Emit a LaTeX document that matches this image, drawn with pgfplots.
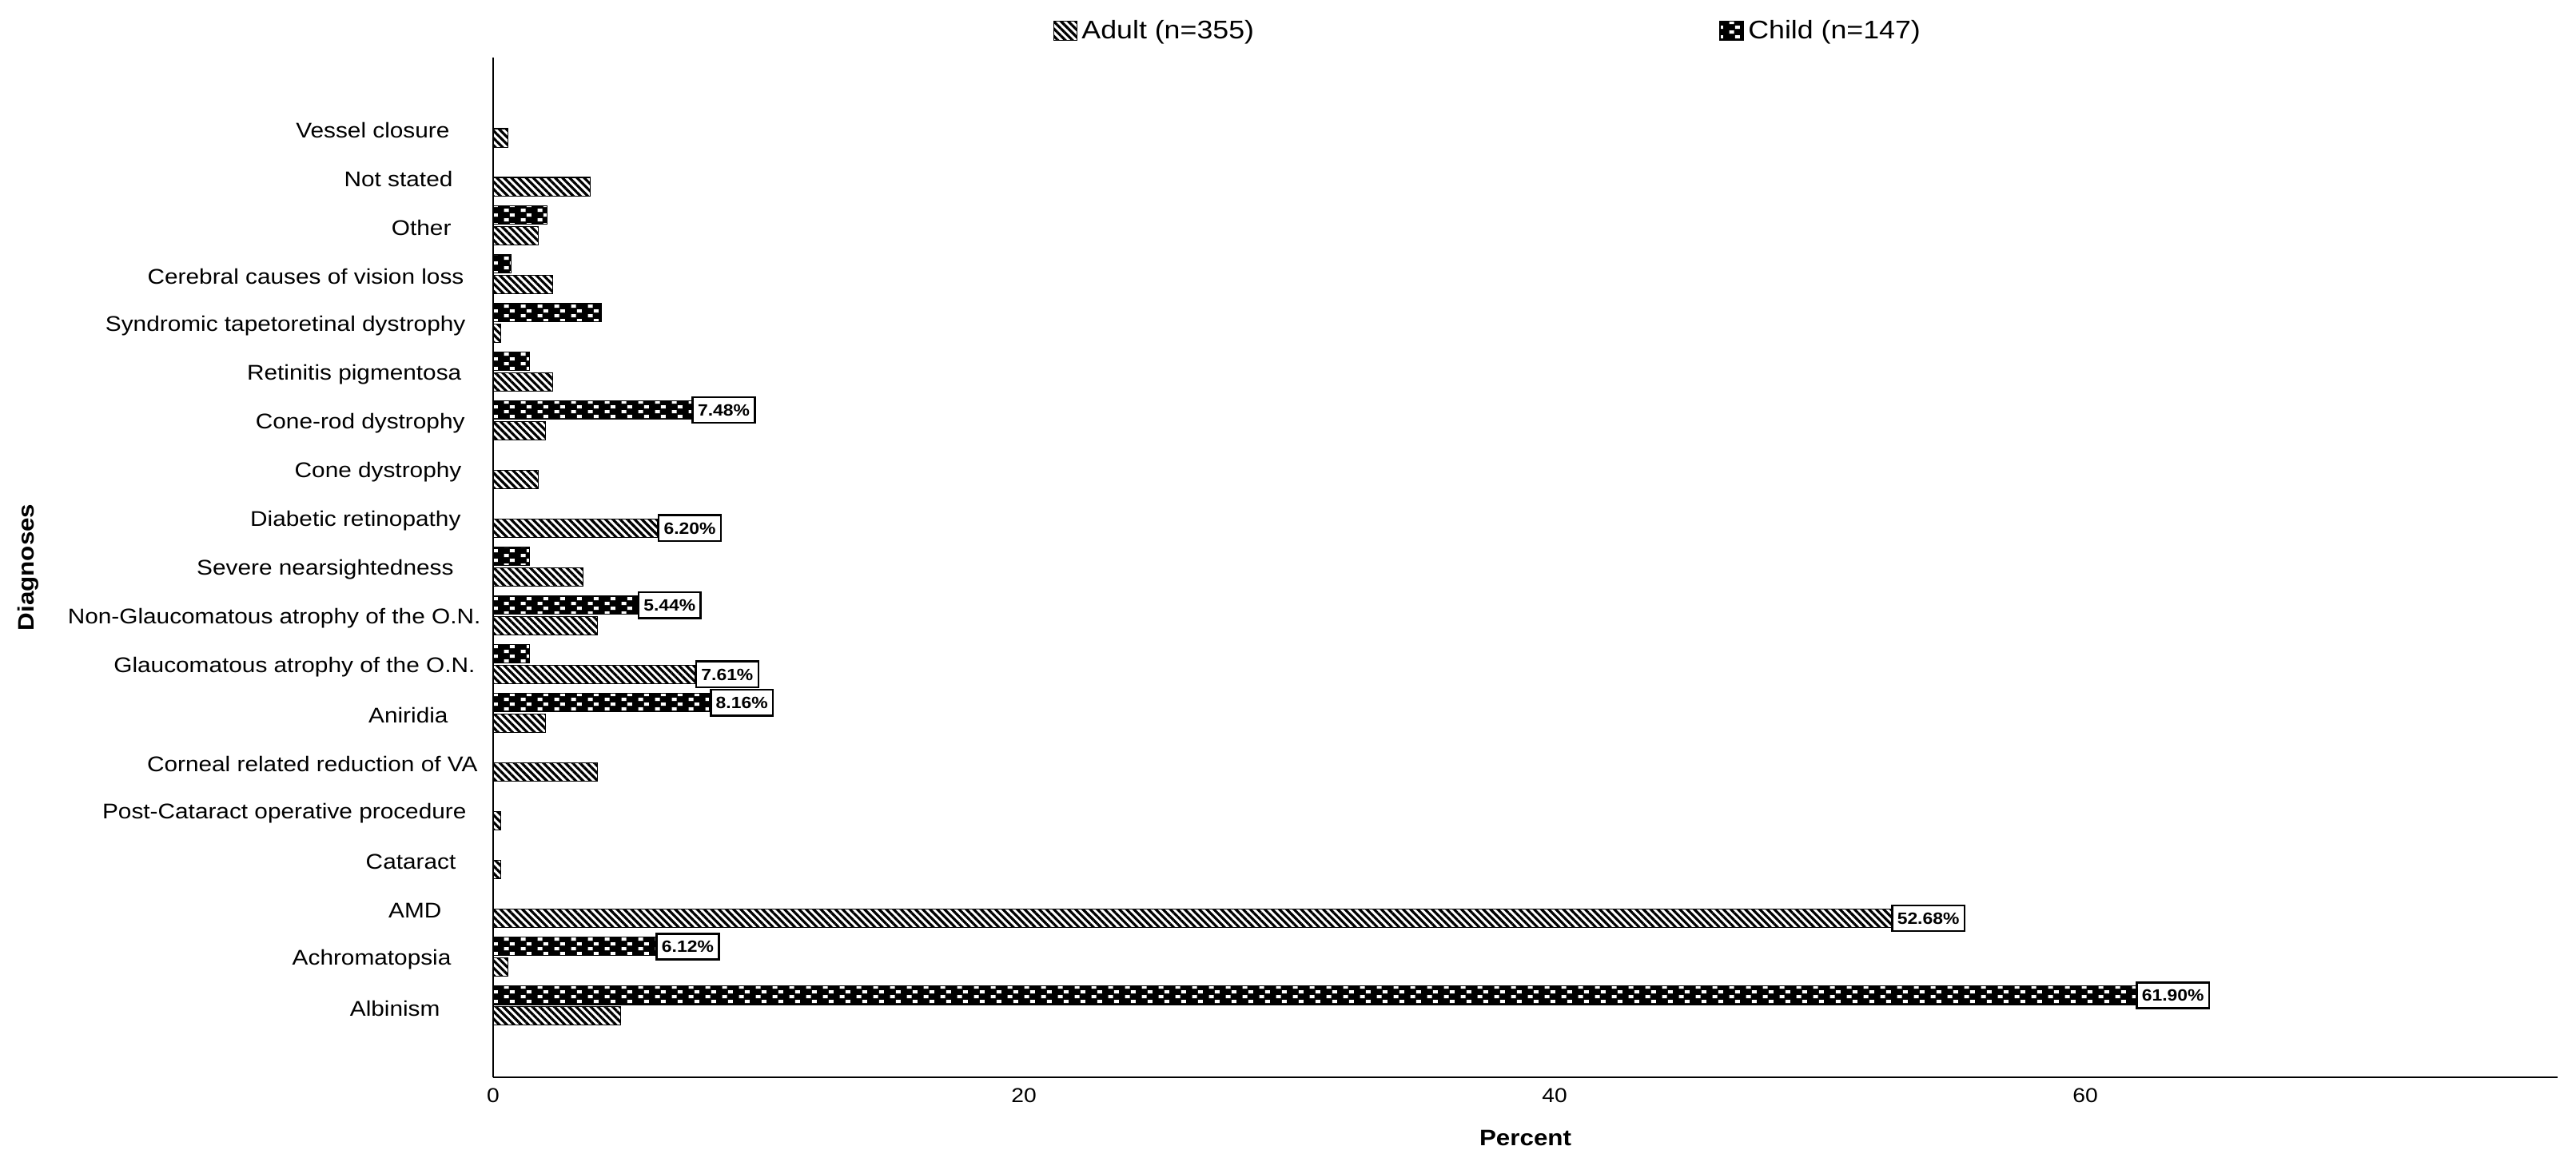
\documentclass[border=0pt]{standalone}
\usepackage{pgfplots}
\pgfplotsset{compat=1.18}
\usepackage{fontspec}
\setmainfont{Liberation Sans}[FakeStretch=1.12]
\usetikzlibrary{patterns,patterns.meta}

\tikzdeclarepattern{
  name=WhiteSquares,
  type=uncolored,
  bottom left={(0pt,0pt)},
  top right={(7.5pt,4.4pt)},
  tile size={(7.5pt,4.4pt)},
  code={
    \fill (0.6pt,0.35pt) rectangle (2.75pt,1.85pt);
    \fill (3.2pt,2.55pt) rectangle (5.35pt,4.05pt);
  }
}

\pgfplotsset{
  adultstyle/.style={draw=black, line width=0.4pt, pattern={Lines[angle=-45,distance=2.3pt,line width=1.15pt]}, pattern color=black},
  childstyle/.style={draw=black, line width=0.4pt, fill=black, postaction={pattern=WhiteSquares, pattern color=white}},
  lbl/.style={point meta=x, nodes near coords={\pgfmathprintnumber[fixed,zerofill,precision=2]{\pgfplotspointmeta}\%},
    every node near coord/.append style={anchor=west, draw=black, line width=0.9pt, fill=white, text=black,
      inner xsep=2.3pt, inner ysep=3.1pt, text height=5.3pt, text depth=0pt,
      font=\bfseries\fontsize{7.3}{8}\selectfont}}
}

\begin{document}
\begin{tikzpicture}
\useasboundingbox (-220.4pt,-39.6pt) rectangle (930.7pt,481.4pt);
\begin{axis}[
  at={(0pt,0pt)}, anchor=south west,
  scale only axis, width=922.5pt, height=455.7pt,
  xbar, bar width=0.38,
  xmin=0, xmax=77.8, ymin=-1.47, ymax=19.44,
  axis x line*=bottom, axis y line*=left,
  axis line style={line width=0.5pt, -},
  xtick={0,20,40,60}, ytick={0,1,...,18},
  yticklabels={
    {Albinism\hspace*{18.2pt}},
    {Achromatopsia\hspace*{13.2pt}},
    {AMD\hspace*{17.5pt}},
    {Cataract\hspace*{11.1pt}},
    {Post-Cataract operative procedure\hspace*{6.4pt}},
    {Corneal related reduction of VA\hspace*{1.4pt}},
    {Aniridia\hspace*{14.6pt}},
    {Glaucomatous atrophy of the O.N.\hspace*{2.5pt}},
    {Non-Glaucomatous atrophy of the O.N.},
    {Severe nearsightedness\hspace*{12.1pt}},
    {Diabetic retinopathy\hspace*{8.9pt}},
    {Cone dystrophy\hspace*{8.6pt}},
    {Cone-rod dystrophy\hspace*{7.1pt}},
    {Retinitis pigmentosa\hspace*{8.6pt}},
    {Syndromic tapetoretinal dystrophy\hspace*{6.8pt}},
    {Cerebral causes of vision loss\hspace*{7.5pt}},
    {Other\hspace*{13.2pt}},
    {Not stated\hspace*{12.5pt}},
    {Vessel closure\hspace*{13.9pt}}
  },
  major tick length=0pt,
  /pgf/number format/assume math mode=true,
  xticklabel style={font=\fontsize{9}{10}\selectfont, anchor=center, yshift=-8.2pt},
  yticklabel style={font=\fontsize{9.5}{11}\selectfont, anchor=east, inner sep=0pt, xshift=-5.4pt, yshift=-1.2pt},
  xlabel={Percent}, ylabel={Diagnoses},
  xlabel style={font=\bfseries\fontsize{10}{12}\selectfont, at={(axis description cs:0.5,-0.0596)}, anchor=center},
  ylabel style={font=\bfseries\fontsize{10}{12}\selectfont, at={(axis description cs:-0.2254,0.5)}, anchor=center},
  legend columns=2,
  legend style={draw=none, fill=none, at={(0.271,1)}, anchor=west, yshift=11.8pt,
    inner sep=0pt, font=\fontsize{11.4}{13}\selectfont,
    /tikz/every even column/.append style={column sep=206pt}},
  legend image code/.code={\draw[#1] (0pt,-4.3pt) rectangle (10.4pt,4.3pt);},
]
% Adult (n=355), category index 0 = Albinism ... 18 = Vessel closure
\addplot[adultstyle, bar shift=-0.21] coordinates {
  (4.79,0) (0.56,1) (52.68,2) (0.28,3) (0.28,4) (3.94,5) (1.97,6) (7.61,7)
  (3.94,8) (3.38,9) (6.20,10) (1.69,11) (1.97,12) (2.25,13) (0.28,14)
  (2.25,15) (1.69,16) (3.66,17) (0.56,18)
};
\addlegendentry{Adult (n=355)}
% Child (n=147)
\addplot[childstyle, bar shift=0.21] coordinates {
  (61.90,0) (6.12,1) (8.16,6) (1.36,7) (5.44,8) (1.36,9) (7.48,12)
  (1.36,13) (4.08,14) (0.68,15) (2.04,16)
};
\addlegendentry{Child (n=147)}
% value labels
\addplot[xbar, bar shift=-0.21, draw=none, fill=none, forget plot, lbl] coordinates {
  (52.68,2) (7.61,7) (6.20,10)
};
\addplot[xbar, bar shift=0.21, draw=none, fill=none, forget plot, lbl] coordinates {
  (61.90,0) (6.12,1) (8.16,6) (5.44,8) (7.48,12)
};
\end{axis}
\end{tikzpicture}
\end{document}
